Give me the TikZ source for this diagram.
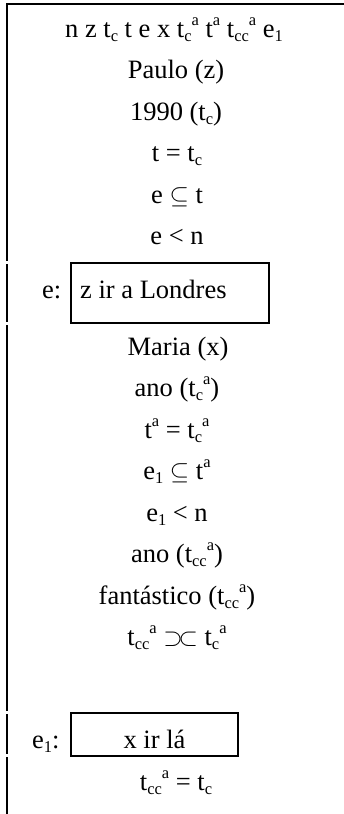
\documentclass[tikz,border=0pt]{standalone}
\usepackage{fontspec}
\setmainfont{Liberation Serif}
\newcommand{\sbx}[1]{\raisebox{-0.16em}{\fontsize{16.5}{16.5}\selectfont #1}}
\newcommand{\spx}[1]{\raisebox{0.42em}{\fontsize{16.5}{16.5}\selectfont #1}}
\begin{document}
\begin{tikzpicture}[x=1pt,y=-1pt,
  txt/.style={anchor=base,inner sep=0pt,font=\fontsize{26.5}{30}\selectfont},
  frame/.style={line width=2pt,draw=black},
  boxed/.style={draw=black,line width=2pt,inner sep=0pt,rectangle}]
\useasboundingbox[fill=white] (0,0) rectangle (344,814);
% outer frame
\coordinate (tl) at (7,4);
\coordinate (tr) at (344,4);
\draw[frame] (tr) -- (tl) -- (7,261);
% boxes
\node[boxed,minimum width=198pt,minimum height=60pt] (b1) at (170,293) {};
\node[boxed,minimum width=167pt,minimum height=43pt] (b2) at (154.5,734.5) {};
\draw[frame] (7,264) -- (7,322);
\draw[frame] (7,325) -- (7,711);
\draw[frame] (7,714) -- (7,754);
\draw[frame] (7,757) -- (7,814);
% texts
\node[txt] (l1) at (174,37) {n z t\sbx{c} t e x t\sbx{c}\spx{a} t\spx{a} t\sbx{cc}\spx{a} e\sbx{1}};
\node[txt] (l2) at (176,78) {Paulo (z)};
\node[txt] (l3) at (176,120) {1990 (t\sbx{c})};
\node[txt] (l4) at (177,161) {t = t\sbx{c}};
\node[txt] (l5) at (177,203) {e $\subseteq$ t};
\node[txt] (l6) at (177,244) {e < n};
\node[txt,anchor=base west] (el) at (42,298) {e:};
\node[txt,anchor=base west] (t1) at (80,298) {z ir a Londres};
\node[txt] (l7) at (178,355) {Maria (x)};
\node[txt] (l8) at (177,396) {ano (t\sbx{c}\spx{a})};
\node[txt] (l9) at (177,438) {t\spx{a} = t\sbx{c}\spx{a}};
\node[txt] (l10) at (177,479) {e\sbx{1} $\subseteq$ t\spx{a}};
\node[txt] (l11) at (177,521) {e\sbx{1} < n};
\node[txt] (l12) at (177,562) {ano (t\sbx{cc}\spx{a})};
\node[txt] (l13) at (177,604) {fantástico (t\sbx{cc}\spx{a})};
\node[txt] (l14) at (177,645) {t\sbx{cc}\spx{a} $\supset\!\subset$ t\sbx{c}\spx{a}};
\node[txt,anchor=base west] (e1l) at (32,748) {e\sbx{1}:};
\node[txt] (t2) at (154.5,748) {x ir lá};
\node[txt] (l15) at (176,790) {t\sbx{cc}\spx{a} = t\sbx{c}};
\end{tikzpicture}
\end{document}
